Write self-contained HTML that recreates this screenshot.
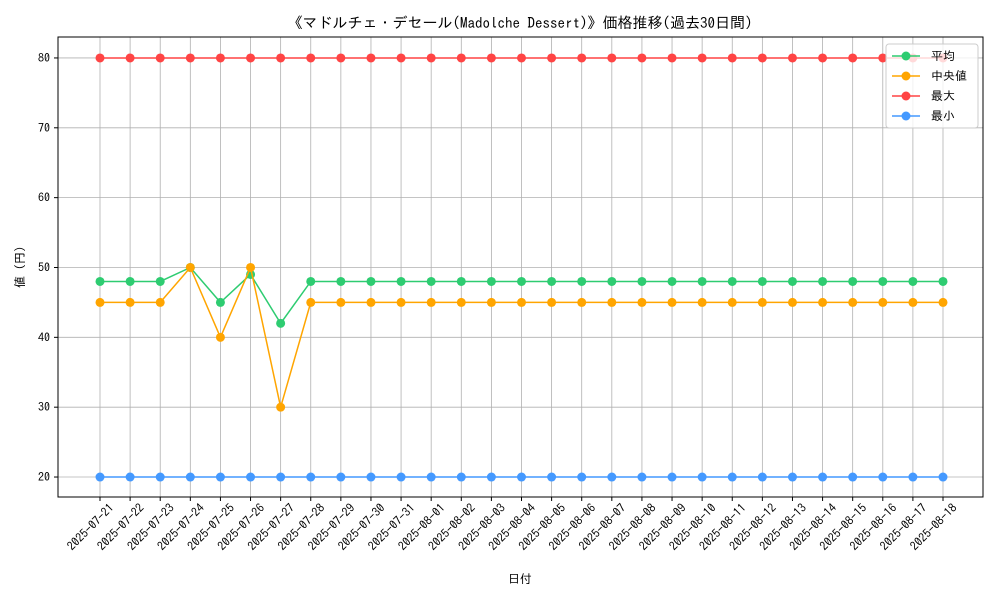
<!DOCTYPE html>
<html><head><meta charset="utf-8">
<style>
body{margin:0;background:#fff;}
svg text{font-family:"IPAGothic","Noto Sans CJK JP","Liberation Sans",sans-serif;fill:#000;}
</style></head>
<body>
<svg id="chart" width="1000" height="600" xmlns="http://www.w3.org/2000/svg">
<rect width="1000" height="600" fill="#fff"/>
<text x="520" y="28" font-size="15" text-anchor="middle">《マドルチェ・デセール(Madolche Dessert)》価格推移(過去30日間)</text>
<g id="grid"></g>
<g id="xticks"></g>
<g id="yticks"></g>
<g id="series"></g>
<rect x="58" y="37" width="925" height="460" fill="none" stroke="#000" stroke-width="1"/>
<text x="520" y="583" font-size="12" text-anchor="middle">日付</text>
<text transform="translate(24,267) rotate(-90)" font-size="12" text-anchor="middle">値 (円)</text>
<g id="legend"></g>
</svg>
<script>
const dates=["2025-07-21","2025-07-22","2025-07-23","2025-07-24","2025-07-25","2025-07-26","2025-07-27","2025-07-28","2025-07-29","2025-07-30","2025-07-31","2025-08-01","2025-08-02","2025-08-03","2025-08-04","2025-08-05","2025-08-06","2025-08-07","2025-08-08","2025-08-09","2025-08-10","2025-08-11","2025-08-12","2025-08-13","2025-08-14","2025-08-15","2025-08-16","2025-08-17","2025-08-18"];
const avgValues=[48,48,48,50,45,49,42,48,48,48,48,48,48,48,48,48,48,48,48,48,48,48,48,48,48,48,48,48,48];
const medianValues=[45,45,45,50,40,50,30,45,45,45,45,45,45,45,45,45,45,45,45,45,45,45,45,45,45,45,45,45,45];
const maxValues=[80,80,80,80,80,80,80,80,80,80,80,80,80,80,80,80,80,80,80,80,80,80,80,80,80,80,80,80,80];
const minValues=[20,20,20,20,20,20,20,20,20,20,20,20,20,20,20,20,20,20,20,20,20,20,20,20,20,20,20,20,20];
const yTicks=[20,30,40,50,60,70,80];
const seriesNames=["平均","中央値","最大","最小"];
const NS="http://www.w3.org/2000/svg";
const L=58,R=983,T=37,B=497,yMin=17.14,yMax=83.0;
const x=i=>100+i*(943-100)/(dates.length-1);
const y=v=>B-(v-yMin)/(yMax-yMin)*(B-T);
function mk(tag,attrs,parent){const e=document.createElementNS(NS,tag);for(const k in attrs)e.setAttribute(k,attrs[k]);parent.appendChild(e);return e;}
const grid=document.getElementById('grid'),xt=document.getElementById('xticks'),yt=document.getElementById('yticks'),sg=document.getElementById('series'),lg=document.getElementById('legend');
dates.forEach((d,i)=>{
  const g=mk('line',{x1:x(i),x2:x(i),y1:T,y2:B,stroke:'#b0b0b0','stroke-width':0.8},grid);
  
  const tk=mk('line',{x1:x(i),x2:x(i),y1:B,y2:B+4,stroke:'#000'},xt);
  
  const t=mk('text',{transform:`translate(${x(i)+9},${B+6}) rotate(-45)`,'font-size':12,'text-anchor':'end','dominant-baseline':'hanging'},xt);
  
  t.textContent=d;
});
yTicks.forEach(v=>{
  const g=mk('line',{x1:L,x2:R,y1:y(v),y2:y(v),stroke:'#b0b0b0','stroke-width':0.8},grid);
  
  const tk=mk('line',{x1:L-4,x2:L,y1:y(v),y2:y(v),stroke:'#000'},yt);
  
  const t=mk('text',{x:L-8,y:y(v)+4,'font-size':12,'text-anchor':'end'},yt);
  
  t.textContent=v;
});
const series=[[avgValues,'#2ecc71','avg'],[medianValues,'#ffa500','median'],[maxValues,'#ff4444','max'],[minValues,'#4499ff','min']];
series.forEach(([vals,c,n])=>{
  const g=mk('g',{},sg);
  
  const p=mk('polyline',{points:vals.map((v,i)=>x(i)+','+y(v)).join(' '),fill:'none',stroke:c,'stroke-width':1.5},g);
  
  vals.forEach((v,i)=>{const m=mk('circle',{cx:x(i),cy:y(v),r:4.5,fill:c},g);
    });
});
const box=mk('rect',{x:886,y:44,width:92,height:84,fill:'#fff','fill-opacity':0.8,stroke:'#ccc',rx:3},lg);

series.forEach(([vals,c,n],k)=>{
  const yy=56+k*20;
  const g=mk('g',{},lg);
  
  mk('line',{x1:892,x2:920,y1:yy,y2:yy,stroke:c,'stroke-width':1.5},g);
  mk('circle',{cx:906,cy:yy,r:4.5,fill:c},g);
  const t=mk('text',{x:931,y:yy+4,'font-size':12},g);
  t.textContent=seriesNames[k];
});
</script>
</body></html>
